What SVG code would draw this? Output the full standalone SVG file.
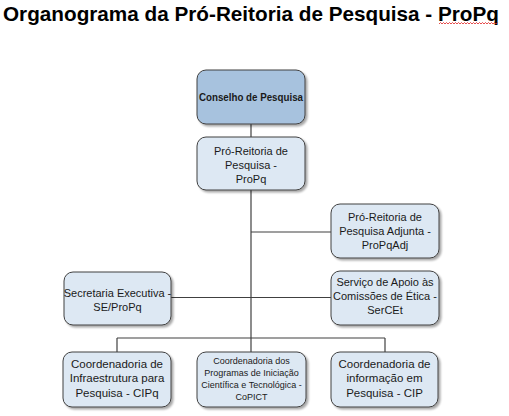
<svg xmlns="http://www.w3.org/2000/svg" width="509" height="416" viewBox="0 0 509 416">
<style>
  .box { fill: #dde8f3; stroke: #404040; stroke-width: 1; filter: url(#sh); }
  .top { fill: #a7c2de; }
  .t { font-family: "Liberation Sans", Arial, sans-serif; font-size: 11px; fill: #1a1a1a; text-anchor: middle; }
  .tb { font-size: 11.5px; }
  .ts { font-size: 9px; }
  .bold { font-weight: bold; }
  .c line { stroke: #404040; stroke-width: 1.2; fill: none; }
  .title { font-family: "Liberation Sans", Arial, sans-serif; font-size: 21px; font-weight: bold; fill: #000; }
</style>
<defs>
  <filter id="sh" x="-10%" y="-10%" width="130%" height="140%">
    <feGaussianBlur in="SourceAlpha" stdDeviation="1"/>
    <feOffset dx="1.5" dy="2" result="b"/>
    <feComponentTransfer><feFuncA type="linear" slope="0.35"/></feComponentTransfer>
    <feMerge><feMergeNode/><feMergeNode in="SourceGraphic"/></feMerge>
  </filter>
</defs>
<rect width="509" height="416" fill="#ffffff"/>
<text class="title" x="3" y="21" textLength="496" lengthAdjust="spacingAndGlyphs">Organograma da Pró-Reitoria de Pesquisa - ProPq</text>
<path d="M439 24 l1.5 -1.5 l1.5 1.5 l1.5 -1.5 l1.5 1.5 l1.5 -1.5 l1.5 1.5 l1.5 -1.5 l1.5 1.5 l1.5 -1.5 l1.5 1.5 l1.5 -1.5 l1.5 1.5 l1.5 -1.5 l1.5 1.5 l1.5 -1.5 l1.5 1.5 l1.5 -1.5 l1.5 1.5 l1.5 -1.5 l1.5 1.5 l1.5 -1.5 l1.5 1.5 l1.5 -1.5 l1.5 1.5 l1.5 -1.5 l1.5 1.5 l1.5 -1.5 l1.5 1.5 l1.5 -1.5 l1.5 1.5 l1.5 -1.5 l1.5 1.5 l1.5 -1.5 l1.5 1.5 l1.5 -1.5 l1.5 1.5 l1.5 -1.5 l1.5 1.5 l1.5 -1.5" fill="none" stroke="#e02020" stroke-width="0.8"/>

<g class="c" id="connectors">
  <line x1="251" y1="124" x2="251" y2="137"/>
  <line x1="251" y1="190" x2="251" y2="338"/>
  <line x1="251" y1="232" x2="331" y2="232"/>
  <line x1="251" y1="297.5" x2="331" y2="297.5"/>
  <line x1="171" y1="297.5" x2="251" y2="297.5"/>
  <line x1="117" y1="338" x2="385" y2="338"/>
  <line x1="117" y1="338" x2="117" y2="352"/>
  <line x1="251" y1="338" x2="251" y2="352"/>
  <line x1="385" y1="338" x2="385" y2="352"/>
</g>

<g id="conselho">
  <rect class="box top" x="197" y="70" width="108" height="54" rx="9"/>
  <text class="t bold" x="251" y="101" font-size="10.5" textLength="104" lengthAdjust="spacingAndGlyphs">Conselho de Pesquisa</text>
</g>
<g id="propq">
  <rect class="box" x="197" y="137" width="108" height="53" rx="9"/>
  <text class="t" x="251" y="155">Pró-Reitoria de</text>
  <text class="t" x="251" y="169">Pesquisa -</text>
  <text class="t" x="251" y="183">ProPq</text>
</g>
<g id="propqadj">
  <rect class="box" x="331" y="204" width="108" height="54" rx="9"/>
  <text class="t" x="385" y="221">Pró-Reitoria de</text>
  <text class="t" x="385" y="235">Pesquisa Adjunta -</text>
  <text class="t" x="385" y="249">ProPqAdj</text>
</g>
<g id="sercet">
  <rect class="box" x="331" y="271" width="108" height="54" rx="9"/>
  <text class="t" x="385" y="286">Serviço de Apoio às</text>
  <text class="t" x="385" y="300">Comissões de Ética -</text>
  <text class="t" x="385" y="313.5">SerCEt</text>
</g>
<g id="se">
  <rect class="box" x="64" y="272" width="107" height="53" rx="9"/>
  <text class="t" x="117.5" y="297">Secretaria Executiva -</text>
  <text class="t" x="117.5" y="311">SE/ProPq</text>
</g>
<g id="cipq">
  <rect class="box" x="63" y="352" width="108" height="55" rx="9"/>
  <text class="t tb" x="117" y="367.5">Coordenadoria de</text>
  <text class="t tb" x="117" y="382">Infraestrutura para</text>
  <text class="t tb" x="117" y="396.5">Pesquisa - CIPq</text>
</g>
<g id="copict">
  <rect class="box" x="197" y="352" width="109" height="55" rx="9"/>
  <text class="t ts" x="251.5" y="364">Coordenadoria dos</text>
  <text class="t ts" x="251.5" y="376">Programas de Iniciação</text>
  <text class="t ts" x="251.5" y="388">Científica e Tecnológica -</text>
  <text class="t ts" x="251.5" y="399.5">CoPICT</text>
</g>
<g id="cip">
  <rect class="box" x="331" y="352" width="107" height="55" rx="9"/>
  <text class="t tb" x="384.5" y="367.5">Coordenadoria de</text>
  <text class="t tb" x="384.5" y="382">informação em</text>
  <text class="t tb" x="384.5" y="396.5">Pesquisa - CIP</text>
</g>
</svg>
